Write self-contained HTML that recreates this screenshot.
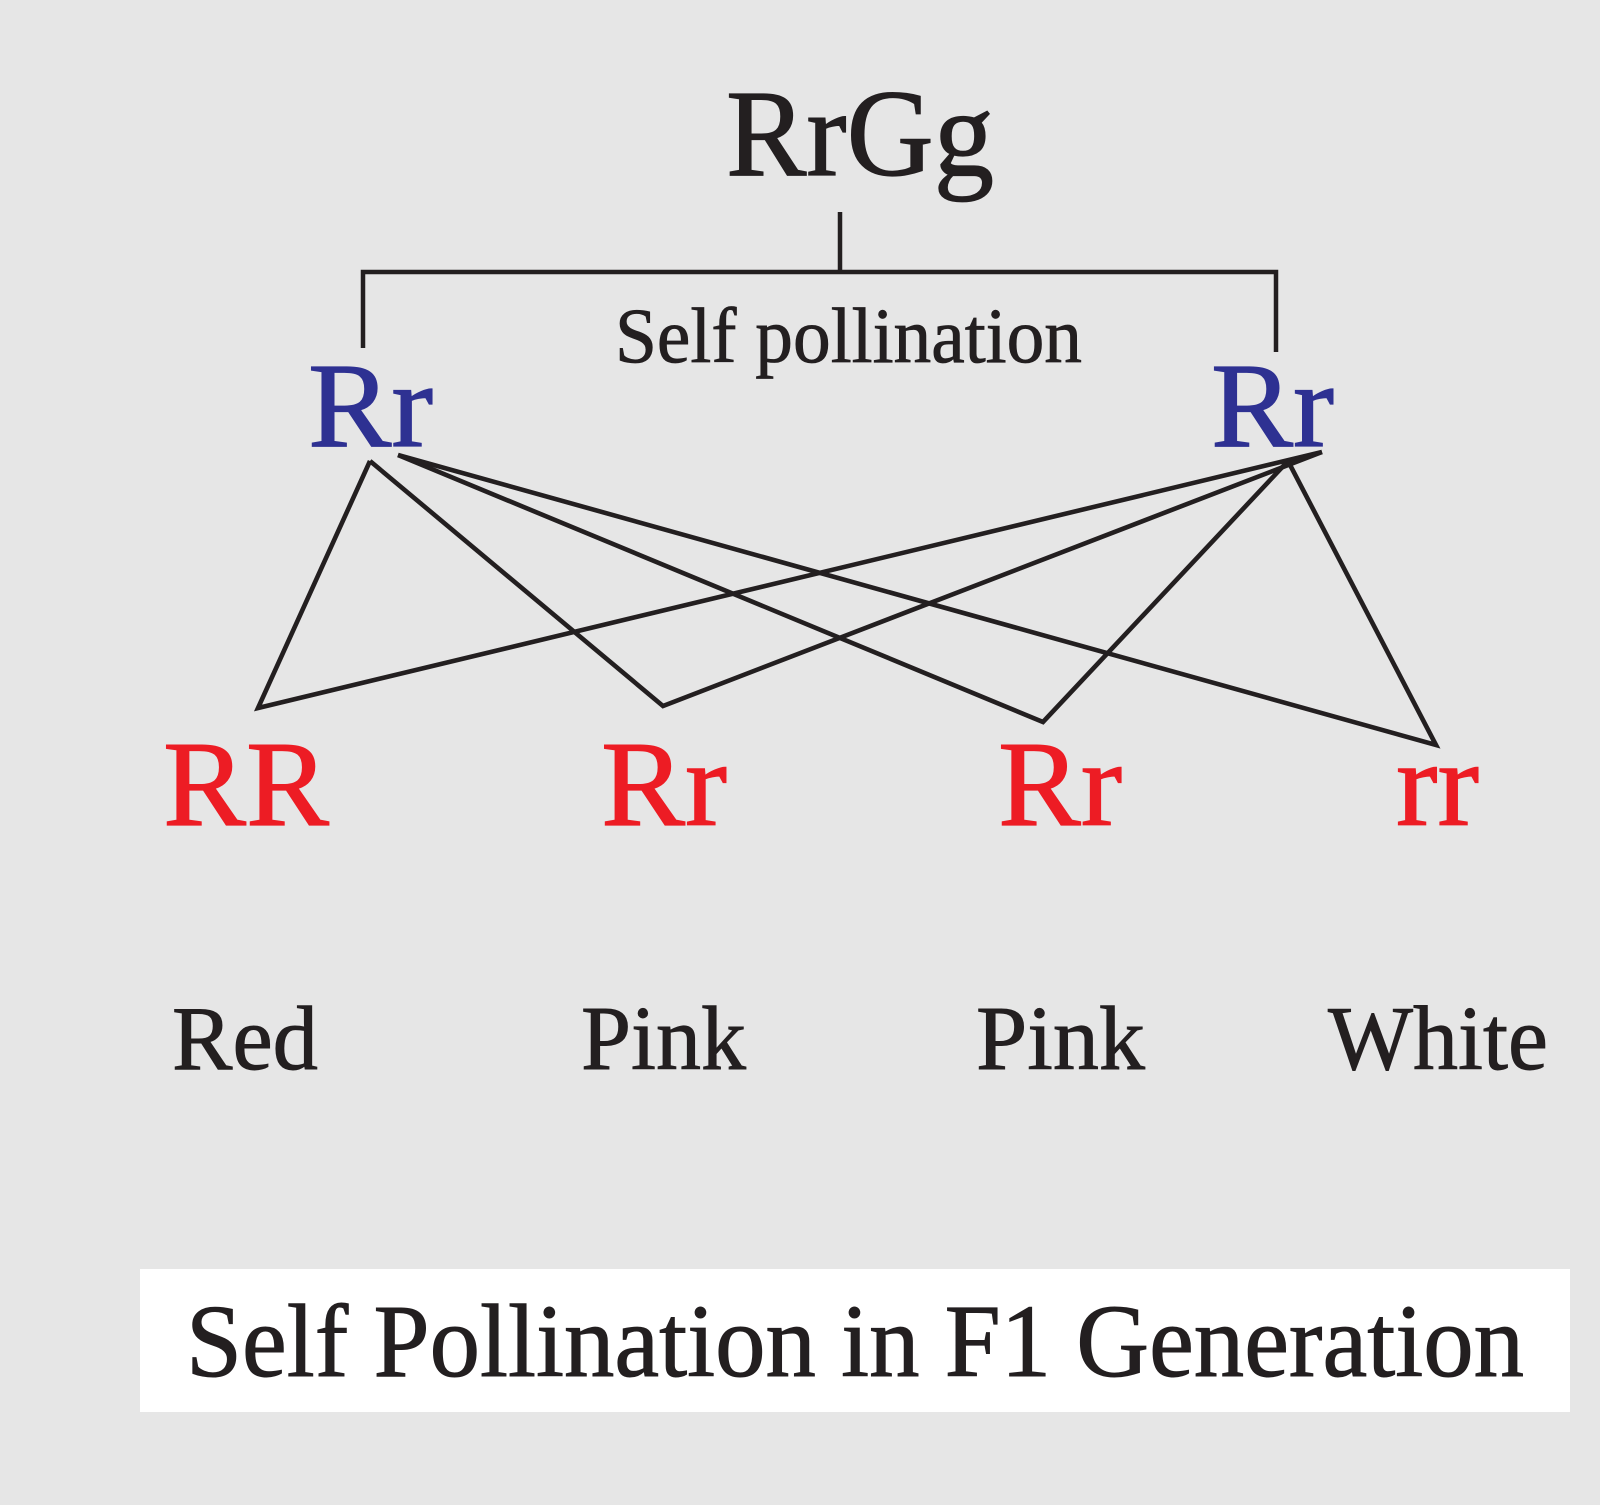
<!DOCTYPE html>
<html>
<head>
<meta charset="utf-8">
<style>
  html, body { margin: 0; padding: 0; background: #e6e6e6; }
  svg { display: block; }
  text { font-family: "Liberation Serif", "Times New Roman", serif; }
</style>
</head>
<body>
<svg width="1600" height="1505" viewBox="0 0 1600 1505" xmlns="http://www.w3.org/2000/svg">
  <rect x="0" y="0" width="1600" height="1505" fill="#e6e6e6"/>

  <!-- Top genotype -->
  <text x="726" y="175" font-size="124" fill="#231f20" stroke="#231f20" stroke-width="1.2" textLength="268" lengthAdjust="spacingAndGlyphs">RrGg</text>

  <!-- Bracket -->
  <path d="M840,212 V272" stroke="#231f20" stroke-width="4.5" fill="none"/>
  <path d="M363,348 V272 H1276 V352" stroke="#231f20" stroke-width="4.5" fill="none" stroke-linejoin="miter"/>

  <text x="615" y="362" font-size="78" fill="#231f20" stroke="#231f20" stroke-width="0.8" textLength="467" lengthAdjust="spacingAndGlyphs">Self pollination</text>

  <!-- Parent Rr (blue) -->
  <text x="308" y="446" font-size="121" fill="#2e3192" stroke="#2e3192" stroke-width="1.2" textLength="125" lengthAdjust="spacingAndGlyphs">Rr</text>
  <text x="1211" y="446" font-size="121" fill="#2e3192" stroke="#2e3192" stroke-width="1.2" textLength="123" lengthAdjust="spacingAndGlyphs">Rr</text>

  <!-- Cross lines -->
  <g stroke="#231f20" stroke-width="4.6" fill="none" stroke-linejoin="miter" stroke-miterlimit="20">
    <polyline points="370,461 258,708 1322,452"/>
    <polyline points="370,461 663,706 1322,452"/>
    <polyline points="398,455 1043,722 1288,461"/>
    <polyline points="398,455 1436,745 1288,461"/>
  </g>

  <!-- Offspring genotypes (red) -->
  <g fill="#ed1c24" stroke="#ed1c24" stroke-width="1.2">
    <text x="163" y="825" font-size="122" textLength="166" lengthAdjust="spacingAndGlyphs">RR</text>
    <text x="601" y="825" font-size="122" textLength="126" lengthAdjust="spacingAndGlyphs">Rr</text>
    <text x="998" y="825" font-size="122" textLength="124" lengthAdjust="spacingAndGlyphs">Rr</text>
    <text x="1396" y="825" font-size="122" textLength="83" lengthAdjust="spacingAndGlyphs">rr</text>
  </g>

  <!-- Phenotypes -->
  <g fill="#231f20" stroke="#231f20" stroke-width="0.9">
    <text x="172" y="1069" font-size="91" textLength="146" lengthAdjust="spacingAndGlyphs">Red</text>
    <text x="581" y="1069" font-size="91" textLength="165" lengthAdjust="spacingAndGlyphs">Pink</text>
    <text x="976" y="1069" font-size="91" textLength="169" lengthAdjust="spacingAndGlyphs">Pink</text>
    <text x="1328" y="1069" font-size="91" textLength="220" lengthAdjust="spacingAndGlyphs">White</text>
  </g>

  <!-- Caption box -->
  <rect x="140" y="1269" width="1430" height="143" fill="#ffffff"/>
  <text x="186" y="1376" font-size="104" fill="#231f20" stroke="#231f20" stroke-width="1" textLength="1338" lengthAdjust="spacingAndGlyphs">Self Pollination in F1 Generation</text>
</svg>
</body>
</html>
